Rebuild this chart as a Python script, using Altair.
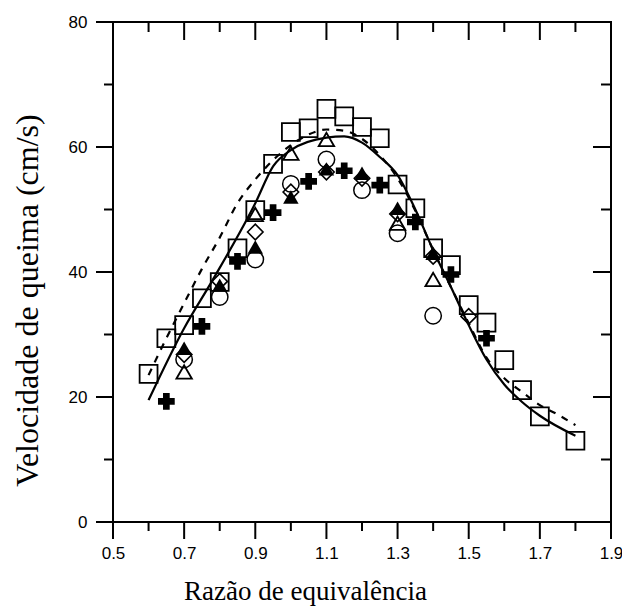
import altair as alt
import pandas as pd

# ---- data ----
sq_x = [0.6, 0.65, 0.7, 0.75, 0.8, 0.85, 0.9, 0.95, 1.0, 1.05, 1.1, 1.15, 1.2, 1.25,
        1.3, 1.35, 1.4, 1.45, 1.5, 1.55, 1.6, 1.65, 1.7, 1.8]
sq_y = [23.7, 29.4, 31.5, 35.8, 38.4, 43.8, 49.9, 57.3, 62.4, 63.0, 66.1, 64.9, 63.2, 61.4,
        54.0, 50.2, 43.8, 41.1, 34.7, 31.9, 25.9, 21.1, 16.9, 13.0]

tri_open_x = [0.7, 0.9, 1.0, 1.1, 1.3, 1.4]
tri_open_y = [24.0, 49.2, 59.0, 61.2, 47.8, 38.8]

tri_fill_x = [0.7, 0.8, 0.9, 1.0, 1.1, 1.2, 1.3, 1.4]
tri_fill_y = [27.8, 37.9, 44.0, 52.0, 56.5, 55.8, 50.2, 43.0]

circ_x = [0.7, 0.8, 0.9, 1.0, 1.1, 1.2, 1.3, 1.4]
circ_y = [26.0, 36.0, 42.0, 54.1, 58.0, 53.1, 46.2, 33.0]

dia_x = [0.7, 0.8, 0.9, 1.0, 1.1, 1.2, 1.3, 1.4, 1.5]
dia_y = [26.8, 38.5, 46.4, 52.8, 56.0, 55.0, 49.3, 42.5, 32.9]

plus_x = [0.65, 0.75, 0.85, 0.95, 1.05, 1.15, 1.25, 1.35, 1.45, 1.55]
plus_y = [19.3, 31.3, 41.7, 49.5, 54.5, 56.2, 53.9, 48.0, 39.6, 29.4]

solid_x = [0.6, 0.7, 0.78, 0.9, 0.95, 1.0, 1.1, 1.15, 1.2, 1.25, 1.3, 1.35, 1.4, 1.45,
           1.5, 1.55, 1.6, 1.65, 1.7, 1.8]
solid_y = [19.5, 31.0, 38.7, 51.0, 56.9, 59.5, 61.5, 61.7, 60.7, 58.4, 55.5, 50.0, 43.5, 37.6,
           31.5, 26.0, 22.0, 19.2, 17.0, 13.8]

dash_x = [0.6, 0.65, 0.7, 0.75, 0.8, 0.85, 0.9, 0.95, 1.0, 1.05, 1.1, 1.15, 1.2, 1.25,
          1.3, 1.35, 1.4, 1.45, 1.5, 1.55, 1.6, 1.65, 1.7, 1.75, 1.8]
dash_y = [23.5, 29.4, 35.0, 40.5, 45.5, 51.0, 54.8, 57.9, 60.3, 62.0, 62.8, 62.6, 61.3, 58.7,
          55.0, 49.8, 43.5, 37.6, 31.8, 26.3, 23.0, 20.8, 18.7, 17.2, 15.5]

x_major = [0.5, 0.7, 0.9, 1.1, 1.3, 1.5, 1.7, 1.9]
x_minor = [0.6, 0.8, 1.0, 1.2, 1.4, 1.6, 1.8]
y_major = [0, 20, 40, 60, 80]
y_minor = [10, 30, 50, 70]

W, H = 498, 500
xs = alt.Scale(domain=[0.5, 1.9], nice=False, zero=False)
ys = alt.Scale(domain=[0, 80], nice=False, zero=False)

x_axis = alt.Axis(values=x_major, format=".1f", ticks=False, domain=False, grid=False,
                  labelPadding=23, labelFontSize=17, labelFont="Liberation Sans",
                  labelColor="black", labelFlush=False,
                  titleFont="Liberation Serif", titleFontSize=27, titleFontWeight="normal",
                  titleColor="black", titleX=192, titleY=77, titleBaseline="alphabetic")
y_axis = alt.Axis(values=y_major, ticks=False, domain=False, grid=False,
                  labelPadding=26, labelFontSize=17, labelFont="Liberation Sans",
                  labelColor="black", labelFlush=False,
                  titleFont="Liberation Serif", titleFontSize=32, titleFontWeight="normal",
                  titleColor="black", titleX=-76, titleY=278, titleBaseline="alphabetic")

X = alt.X("x:Q", scale=xs, axis=x_axis, title="Razão de equivalência")
Y = alt.Y("y:Q", scale=ys, axis=y_axis, title="Velocidade de queima (cm/s)")


def df(x, y):
    return pd.DataFrame({"x": x, "y": y})


tick_style = dict(color="black", strokeWidth=2)
ticks = [
    # bottom (outward) and top (inward)
    alt.Chart(df(x_major, [0] * len(x_major))).mark_rule(**tick_style).encode(
        x=X, y=alt.value(H), y2=alt.value(H + 17)),
    alt.Chart(df(x_minor, [0] * len(x_minor))).mark_rule(**tick_style).encode(
        x=X, y=alt.value(H), y2=alt.value(H + 9)),
    alt.Chart(df(x_major, [0] * len(x_major))).mark_rule(**tick_style).encode(
        x=X, y=alt.value(0), y2=alt.value(18)),
    alt.Chart(df(x_minor, [0] * len(x_minor))).mark_rule(**tick_style).encode(
        x=X, y=alt.value(0), y2=alt.value(10)),
    # left (outward) and right (inward)
    alt.Chart(df([0.5] * len(y_major), y_major)).mark_rule(**tick_style).encode(
        y=Y, x=alt.value(-17), x2=alt.value(0)),
    alt.Chart(df([0.5] * len(y_minor), y_minor)).mark_rule(**tick_style).encode(
        y=Y, x=alt.value(-9), x2=alt.value(0)),
    alt.Chart(df([0.5] * len(y_major), y_major)).mark_rule(**tick_style).encode(
        y=Y, x=alt.value(W - 18), x2=alt.value(W)),
    alt.Chart(df([0.5] * len(y_minor), y_minor)).mark_rule(**tick_style).encode(
        y=Y, x=alt.value(W - 10), x2=alt.value(W)),
]

solid = alt.Chart(df(solid_x, solid_y)).mark_line(
    color="black", strokeWidth=2.2, interpolate="monotone").encode(x=X, y=Y)
dashed = alt.Chart(df(dash_x, dash_y)).mark_line(
    color="black", strokeWidth=2.2, strokeDash=[7, 7], interpolate="monotone").encode(x=X, y=Y)

squares = alt.Chart(df(sq_x, sq_y)).mark_point(
    shape="square", size=320, filled=False, color="black", strokeWidth=1.8, opacity=1).encode(x=X, y=Y)
tri_open = alt.Chart(df(tri_open_x, tri_open_y)).mark_point(
    shape="triangle-up", size=240, filled=False, color="black", strokeWidth=1.8, opacity=1).encode(x=X, y=Y)
tri_fill = alt.Chart(df(tri_fill_x, tri_fill_y)).mark_point(
    shape="triangle-up", size=240, filled=True, color="black", opacity=1).encode(x=X, y=Y)
circles = alt.Chart(df(circ_x, circ_y)).mark_point(
    shape="circle", size=270, filled=False, color="black", strokeWidth=1.5, opacity=1).encode(x=X, y=Y)
diamonds = alt.Chart(df(dia_x, dia_y)).mark_point(
    shape="diamond", size=240, filled=False, color="black", strokeWidth=1.6, opacity=1).encode(x=X, y=Y)
pluses = alt.Chart(df(plus_x, plus_y)).mark_point(
    shape="cross", size=280, filled=True, color="black", opacity=1).encode(x=X, y=Y)

chart = alt.layer(
    *ticks, dashed, solid, squares, circles, diamonds, tri_open, tri_fill, pluses
).properties(
    width=W, height=H,
    background="white",
    autosize=alt.AutoSizeParams(type="none"),
    padding={"left": 113, "top": 22, "right": 11, "bottom": 84},
).configure_view(stroke="black", strokeWidth=2)

chart.save("out.html", embed_options={"renderer": "svg", "actions": False})
